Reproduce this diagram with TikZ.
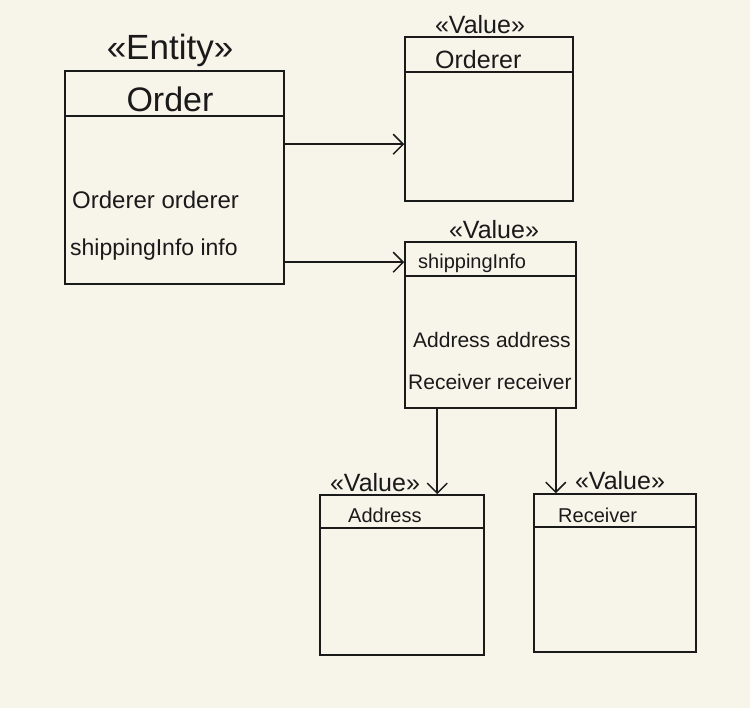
\documentclass[tikz,border=0pt]{standalone}
\usepackage{fontspec}
\setmainfont{Liberation Sans}
\usetikzlibrary{arrows.meta}
\definecolor{paper}{HTML}{F7F5EA}
\definecolor{ink}{HTML}{1A1A1A}
\begin{document}
\begin{tikzpicture}[
  x=1pt, y=-1pt,
  classbox/.style={
    draw=ink,
    line width=1.6pt,
    rectangle,
    inner sep=0pt
  },
  stereo/.style={
    anchor=south,
    inner sep=1pt,
    text=ink,
    font=\fontsize{25}{28}\selectfont
  },
  cname/.style={
    anchor=west,
    inner sep=0pt,
    text=ink,
    font=\fontsize{20}{24}\selectfont
  },
  attr/.style={
    anchor=west,
    inner sep=0pt,
    text=ink,
    font=\fontsize{21}{24}\selectfont
  },
  sep/.style={
    draw=ink,
    line width=1.6pt
  },
  assoc/.style={
    draw=ink,
    line width=1.5pt,
    -{Straight Barb[length=10pt,width=20pt,line width=1.5pt]}
  }
]%
\fill[paper] (0,0) rectangle (750,708);
\useasboundingbox (0,0) rectangle (750,708);
% classes
\node [classbox, minimum width=219pt, minimum height=213pt] (order) at (174.5,177.5) {};
\node [classbox, minimum width=168pt, minimum height=164pt] (orderer) at (489,119) {};
\node [classbox, minimum width=171pt, minimum height=166pt] (info) at (490.5,325) {};
\node [classbox, minimum width=164pt, minimum height=160pt] (address) at (402,575) {};
\node [classbox, minimum width=162pt, minimum height=158pt] (receiver) at (615,573) {};
% stereotypes
\node [stereo, font=\fontsize{35}{40}\selectfont] (orderStereo) at (170,68) {«Entity»};
\node [stereo] (ordererStereo) at (480,35) {«Value»};
\node [stereo] (infoStereo) at (494,240) {«Value»};
\node [stereo] (addressStereo) at (375,493) {«Value»};
\node [stereo] (receiverStereo) at (620,491) {«Value»};
% names
\node [cname, anchor=center, font=\fontsize{34}{38}\selectfont] (orderName) at (170,99) {Order};
\node [cname, font=\fontsize{25}{28}\selectfont] (ordererName) at (435,60) {Orderer};
\node [cname] (infoName) at (418,263) {shippingInfo};
\node [cname] (addressName) at (348,515) {Address};
\node [cname] (receiverName) at (558,515) {Receiver};
% compartments
\draw [sep] ([yshift=-46pt]order.north west) -- ([yshift=-46pt]order.north east);
\draw [sep] ([yshift=-36pt]orderer.north west) -- ([yshift=-36pt]orderer.north east);
\draw [sep] ([yshift=-35pt]info.north west) -- ([yshift=-35pt]info.north east);
\draw [sep] ([yshift=-34pt]address.north west) -- ([yshift=-34pt]address.north east);
\draw [sep] ([yshift=-34pt]receiver.north west) -- ([yshift=-34pt]receiver.north east);
% fields
\node [attr, font=\fontsize{24}{28}\selectfont] (fOrderer) at (72,200) {Orderer orderer};
\node [attr, font=\fontsize{23}{28}\selectfont] (fInfo) at (70,250) {shippingInfo info};
\node [attr] (fAddress) at (413,340) {Address address};
\node [attr] (fReceiver) at (408,382) {Receiver receiver};
% associations
\draw [assoc] ([yshift=-74pt]order.north east) -- ([yshift=-74pt]order.north east -| orderer.west);
\draw [assoc] ([yshift=-192pt]order.north east) -- ([yshift=-192pt]order.north east -| info.west);
\draw [assoc] ([xshift=33pt]info.south west) -- ([xshift=33pt]info.south west |- address.north);
\draw [assoc] ([xshift=-21pt]info.south east) -- ([xshift=-21pt]info.south east |- receiver.north);
\end{tikzpicture}
\end{document}
